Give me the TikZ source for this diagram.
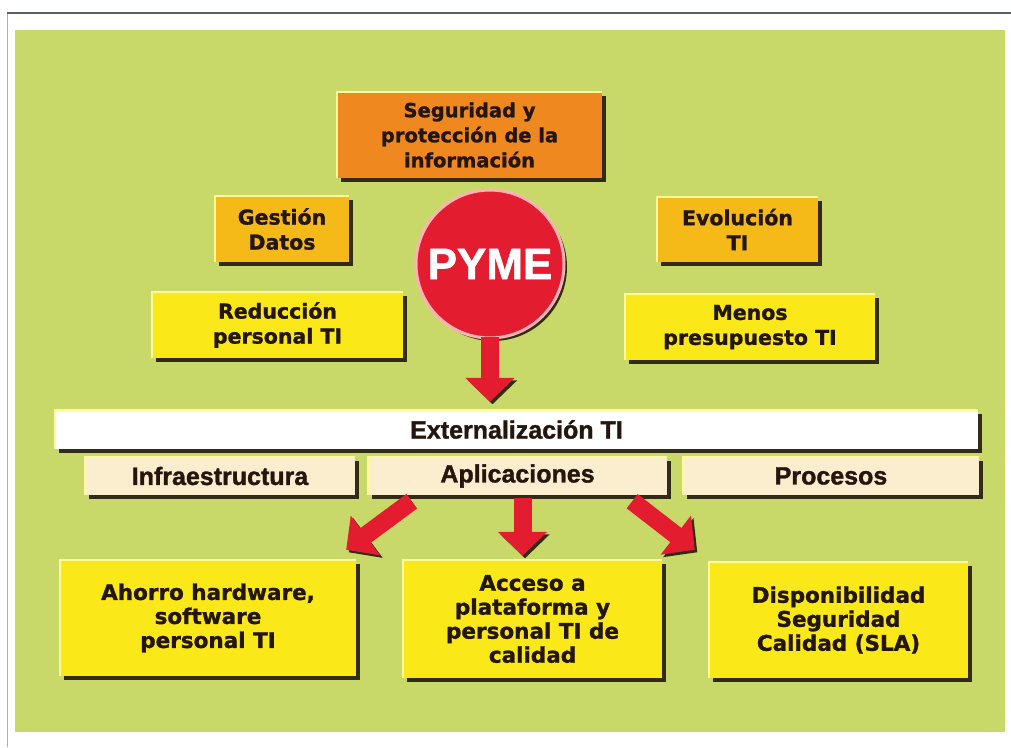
\documentclass[tikz,border=0pt]{standalone}
\usepackage{fontspec}
\setmainfont{DejaVu Sans}
\newfontfamily\heavysans[FakeBold=1.3]{DejaVu Sans Bold}
\newfontfamily\heavylib[FakeBold=1.3]{Liberation Sans Bold}
\newfontfamily\libsans{Liberation Sans}
\usetikzlibrary{shadows,arrows.meta,calc}

\definecolor{panelgreen}{RGB}{200,217,106}
\definecolor{boxorange}{RGB}{240,136,32}
\definecolor{boxamber}{RGB}{246,186,24}
\definecolor{boxyellow}{RGB}{250,232,24}
\definecolor{boxcream}{RGB}{250,238,206}
\definecolor{pymered}{RGB}{228,28,48}
\definecolor{inkbrown}{RGB}{36,22,12}
\definecolor{shadowdark}{RGB}{50,44,22}
\definecolor{framegray}{RGB}{90,96,92}

\begin{document}
\begin{tikzpicture}[x=1pt,y=-1pt,
  card/.style={draw=none, inner sep=2pt, align=center, text=inkbrown,
    drop shadow={shadow xshift=3.5pt, shadow yshift=-3.5pt, fill=shadowdark, opacity=1}},
  toptxt/.style={font=\heavysans\fontsize{19.5}{25}\selectfont},
  sidetxt/.style={font=\heavysans\fontsize{20.5}{25}\selectfont},
  midtxt/.style={font=\heavylib\fontsize{25}{26}\selectfont},
  bottxt/.style={font=\heavysans\fontsize{21.5}{24}\selectfont},
  hlline/.style={draw=white!60!yellow, line width=2pt},
  bigarrow/.style={draw=pymered, line width=18pt,
    -{Triangle[width=48pt,length=24pt]},
    preaction={draw=shadowdark, transform canvas={xshift=2.5pt,yshift=-2.5pt}}}
]
% page and panel
\fill[white] (0,0) rectangle (1011,747);
\useasboundingbox (0,0) rectangle (1011,747);
\coordinate (ftl) at (7,13);
\coordinate (ftr) at (1011,13);
\coordinate (fbl) at (7,747);
\draw[framegray!50, line width=1pt] (ftl) -- (fbl);
\draw[framegray, line width=2.5pt] (ftl) -- (ftr);
\fill[panelgreen] (15,30) rectangle (1005,732);

% upper boxes
\node[card, toptxt, fill=boxorange, minimum width=265pt, minimum height=86pt]
  (seg) at (469.5,135) {Seguridad y\\protección de la\\información};
\node[card, sidetxt, fill=boxamber, minimum width=134pt, minimum height=66pt]
  (gest) at (282,229) {Gestión\\Datos};
\node[card, sidetxt, fill=boxamber, minimum width=161pt, minimum height=65pt]
  (evol) at (737.5,229.5) {Evolución\\TI};
\node[card, sidetxt, fill=boxyellow, minimum width=251pt, minimum height=66pt]
  (redu) at (277.5,325) {Reducción\\personal TI};
\node[card, sidetxt, fill=boxyellow, minimum width=250pt, minimum height=66pt]
  (menos) at (750,327) {Menos\\presupuesto TI};

% middle bar
\node[card, midtxt, fill=white, minimum width=923pt, minimum height=39pt]
  (ext) at (516.5,429.5) {Externalización TI};
\node[card, midtxt, fill=boxcream, minimum width=270pt, minimum height=38pt]
  (infra) at (220,476) {Infraestructura};
\node[card, midtxt, fill=boxcream, minimum width=299pt, minimum height=38pt]
  (apl) at (517.5,476) {Aplicaciones};
\node[card, midtxt, fill=boxcream, minimum width=296pt, minimum height=38pt]
  (proc) at (831,476) {Procesos};

% bottom boxes
\node[card, bottxt, fill=boxyellow, minimum width=296pt, minimum height=116pt]
  (ahorro) at (208,618) {Ahorro hardware,\\software\\personal TI};
\node[card, bottxt, fill=boxyellow, minimum width=259pt, minimum height=118pt]
  (acceso) at (532.5,619) {Acceso a\\plataforma y\\personal TI de\\calidad};
\node[card, bottxt, fill=boxyellow, minimum width=259pt, minimum height=116pt]
  (disp) at (838.5,620) {Disponibilidad\\Seguridad\\Calidad (SLA)};

% highlights
\foreach \n in {seg,gest,evol,redu,menos,ext,infra,apl,proc,ahorro,acceso,disp}
  \draw[hlline] (\n.south west) -- (\n.north west) -- (\n.north east);

% PYME circle
\node[circle, fill=pymered, draw=red!30!white, line width=3pt, minimum size=148pt,
  text=white, font=\heavylib\fontsize{44}{44}\selectfont, inner sep=0pt,
  drop shadow={shadow xshift=3pt, shadow yshift=-3pt, fill=shadowdark, opacity=1}]
  (pyme) at (490,264) {PYME};

% arrows
\draw[bigarrow, shorten <=-3pt, shorten >=8pt] (pyme.south) -- (pyme.south |- ext.north);
\draw[bigarrow] ($(apl.south west)+(44,6)$) -- ($(ahorro.north east)+(-10,-10)$);
\draw[bigarrow] ($(apl.south)+(5,3)$) -- ($(acceso.north)+(-10,-4)$);
\draw[bigarrow] ($(apl.south east)+(-35,6)$) -- ($(disp.north west)+(-14,-12)$);
\end{tikzpicture}
\end{document}
